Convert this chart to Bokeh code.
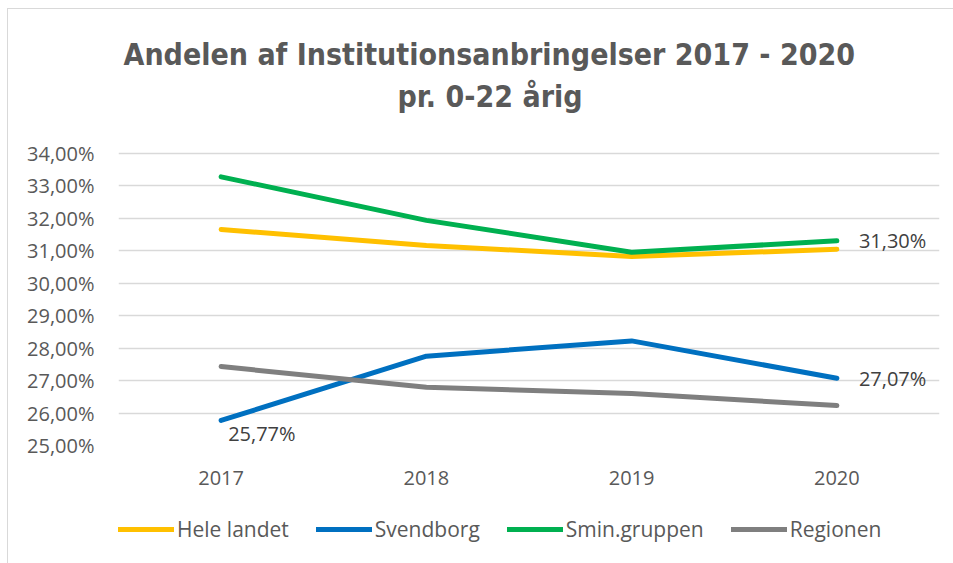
from bokeh.plotting import figure
from bokeh.models import Range1d, FixedTicker, Legend, LegendItem, Title
from bokeh.layouts import column
from bokeh.core.properties import value
from bokeh.embed import file_html
from bokeh.resources import INLINE

# ---- data ----
years = ["2017", "2018", "2019", "2020"]
x_pos = [1, 2, 3, 4]
hele_landet = [31.65, 31.16, 30.82, 31.04]
svendborg = [25.77, 27.75, 28.22, 27.07]
smin_gruppen = [33.27, 31.93, 30.95, 31.30]
regionen = [27.43, 26.79, 26.60, 26.23]
series_names = ["Hele landet", "Svendborg", "Smin.gruppen", "Regionen"]
series_colors = ["#FFC000", "#0070C0", "#00B050", "#7F7F7F"]
y_ticks = [25, 26, 27, 28, 29, 30, 31, 32, 33, 34]
title_line1 = "Andelen af Institutionsanbringelser 2017 - 2020"
title_line2 = "pr. 0-22 årig"

def pct(v):
    return f"{v:.2f}%".replace(".", ",")

FONT = "Open Sans"
TITLE_FONT = "DejaVu Sans Condensed"
GRAY = "#595959"
all_series = [hele_landet, svendborg, smin_gruppen, regionen]
line_kw = dict(line_width=5, line_cap="round", line_join="round")

# ---- main chart ----
p = figure(frame_width=821, frame_height=294, output_backend="svg",
           toolbar_location=None, title_location=None,
           x_range=Range1d(0.5, 4.5), y_range=Range1d(25, 34.05),
           min_border_left=110, min_border_right=14, min_border_top=142,
           min_border_bottom=55)
p.outline_line_color = None
p.background_fill_color = "white"
p.border_fill_color = "white"

p.xaxis.ticker = FixedTicker(ticks=x_pos)
p.xaxis.major_label_overrides = {x: y for x, y in zip(x_pos, years)}
p.yaxis.ticker = FixedTicker(ticks=y_ticks)
p.yaxis.major_label_overrides = {t: pct(t) for t in y_ticks}
for ax in (p.xaxis, p.yaxis):
    ax.axis_line_color = None
    ax.major_tick_line_color = None
    ax.minor_tick_line_color = None
    ax.major_tick_out = 0
    ax.major_tick_in = 0
    ax.major_label_text_font = FONT
    ax.major_label_text_font_size = "20px"
    ax.major_label_text_color = GRAY
p.yaxis.major_label_standoff = 24
p.xaxis.major_label_standoff = 25
p.xgrid.grid_line_color = None
p.ygrid.grid_line_color = "#D9D9D9"
p.ygrid.grid_line_width = 1.3

for vals, col in zip(all_series, series_colors):
    p.line(x_pos, vals, line_color=col, **line_kw)

lab_kw = dict(text_font=value(FONT), text_font_size="20px", text_color="#404040")
p.text(x=[x_pos[3]], y=[smin_gruppen[3]], text=[pct(smin_gruppen[3])],
       text_align="left", text_baseline="middle", x_offset=22, **lab_kw)
p.text(x=[x_pos[3]], y=[svendborg[3]], text=[pct(svendborg[3])],
       text_align="left", text_baseline="middle", x_offset=22, **lab_kw)
p.text(x=[x_pos[0]], y=[svendborg[0]], text=[pct(svendborg[0])],
       text_align="left", text_baseline="middle", x_offset=7, y_offset=13, **lab_kw)

t2 = Title(text=title_line2, align="left", offset=279, text_font=TITLE_FONT,
           text_font_size="30px", text_font_style="bold", text_color=GRAY,
           standoff=76)
t1 = Title(text=title_line1, align="left", offset=5, text_font=TITLE_FONT,
           text_font_size="30px", text_font_style="bold", text_color=GRAY,
           standoff=-66)
p.add_layout(t2, "above")
p.add_layout(t1, "above")

# ---- legend strip (same series, outside its visible range) ----
fl = figure(width=945, height=63, output_backend="svg", toolbar_location=None,
            title_location=None, x_axis_type=None, y_axis_type=None,
            x_range=Range1d(100, 101), y_range=Range1d(100, 101),
            min_border_left=110, min_border_right=14, min_border_top=0,
            min_border_bottom=0)
fl.outline_line_color = None
fl.border_fill_color = "white"
fl.background_fill_color = "white"
items = []
for name, vals, col in zip(series_names, all_series, series_colors):
    r = fl.line(x_pos, vals, line_color=col, **line_kw)
    items.append(LegendItem(label=name, renderers=[r]))
legend = Legend(items=items, orientation="horizontal", location="top_left",
                label_text_font=FONT, label_text_font_size="21px",
                label_text_color=GRAY, glyph_width=56, glyph_height=58,
                label_standoff=3, spacing=27, border_line_color=None,
                background_fill_alpha=0, padding=0, margin=0)
fl.add_layout(legend)

layout = column(p, fl, spacing=0,
                styles={"margin-left": "7px", "margin-top": "8px",
                        "border-left": "1px solid #D9D9D9",
                        "border-top": "1px solid #D9D9D9"})

open("out.html", "w").write(file_html(layout, INLINE))
